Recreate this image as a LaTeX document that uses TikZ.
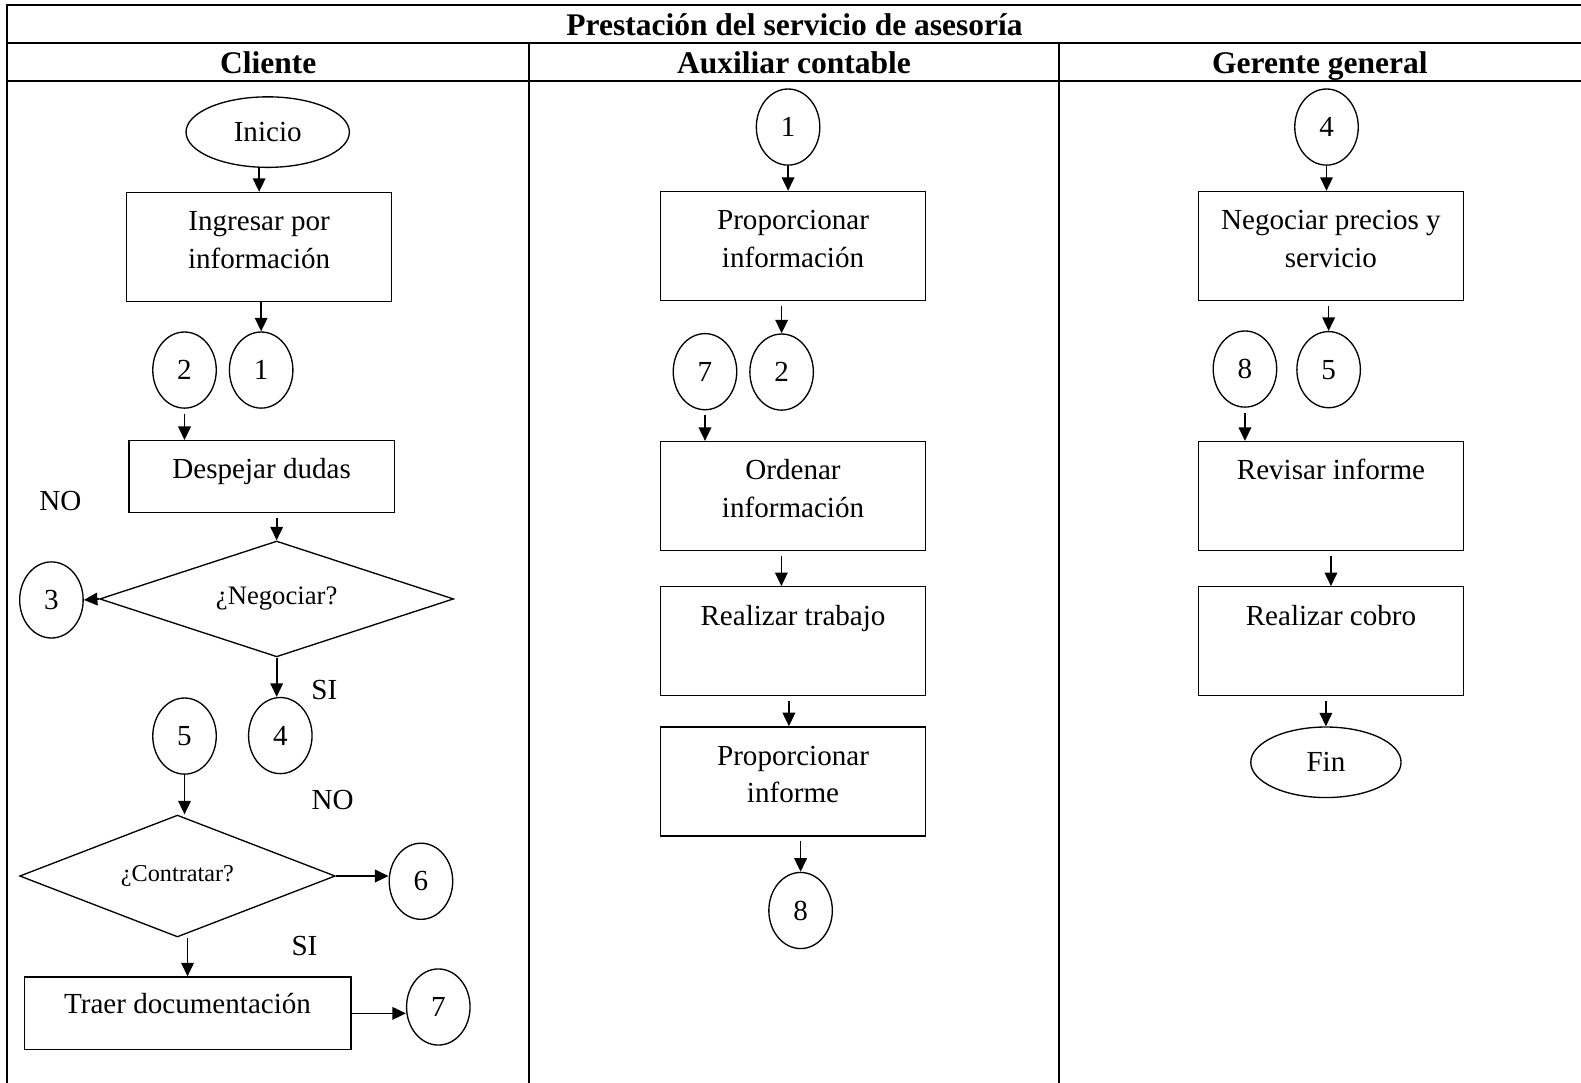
\documentclass[tikz,border=0pt]{standalone}
\usepackage{fontspec}
\setmainfont{Liberation Serif}
\usetikzlibrary{shapes.geometric,arrows.meta}
\tikzset{
processbox/.style={rectangle, draw=black, line width=0.55pt, inner xsep=2pt, inner ysep=0pt, minimum width=109.4pt, text width=104pt, align=flush center, text height=15.8pt, text depth=29.2pt},
connectorv1/.style={ellipse, draw=black, line width=0.55pt, inner sep=0pt, minimum width=26.2pt, minimum height=31.4pt},
terminalnode/.style={ellipse, draw=black, line width=0.55pt, inner sep=0pt, minimum width=67.4pt, minimum height=29.1pt},
decisionnode/.style={diamond, draw=black, line width=0.55pt, inner sep=0pt, aspect=3, minimum width=146pt, minimum height=47.8pt},
answertext/.style={inner sep=0pt},
headertext/.style={inner sep=0pt, text height=9pt, text depth=0pt, font=\fontsize{13}{15}\selectfont\bfseries},
arrowv1/.style={line width=0.7pt, -{Triangle[length=5.6pt,width=5.2pt]}},
tableline/.style={line width=0.85pt},
}

\begin{document}
\begin{tikzpicture}[x=0.416pt,y=-0.416pt,font=\fontsize{12}{15.4}\selectfont]
\useasboundingbox (0,0) rectangle (1568,1074);
\draw[tableline] (7,1074) -- (7,5) -- (1568,5);
\draw[tableline] (7,42.5) -- (1568,42.5);
\draw[tableline] (7,80.5) -- (1568,80.5);
\draw[tableline] (525,42.5) -- (525,1074);
\draw[tableline] (1050,42.5) -- (1050,1074);
\node[headertext] at (788,24) (title) {Prestación del servicio de asesoría};
\node[headertext] at (266,62) (hcliente) {Cliente};
\node[headertext] at (787.5,62) (hauxiliar) {Auxiliar contable};
\node[headertext] at (1309,62) (hgerente) {Gerente general};

\node[terminalnode] at (265.5,131) (inicio) {Inicio};
\node[processbox] at (257,245) (ingresar) {Ingresar por\\información};
\node[connectorv1] at (259,367) (c1) {1};
\node[connectorv1] at (183,367) (c2) {2};
\node[processbox, text depth=13.7pt] at (259.5,472.5) (despejar) {Despejar dudas};
\node[decisionnode, font=\fontsize{11}{13}\selectfont] at (274.4,594) (negociar) {¿Negociar?};
\node[connectorv1] at (51,595) (c3) {3};
\node[connectorv1] at (278,729.5) (c4) {4};
\node[connectorv1] at (183,730) (c5) {5};
\node[decisionnode, minimum width=130.2pt, minimum height=50.3pt, font=\fontsize{10}{12}\selectfont] at (176,868.8) (contratar) {¿Contratar?};
\node[connectorv1] at (417.5,874) (c6) {6};
\node[processbox, minimum width=134.8pt, text width=130pt, text height=15pt, text depth=15pt] at (186,1005) (traer) {Traer documentación};
\node[connectorv1] at (434.7,998.7) (c7) {7};
\node[answertext] at (60,497) (no1) {NO};
\node[answertext] at (321.6,684.3) (si1) {SI};
\node[answertext] at (330,793.4) (no2) {NO};
\node[answertext] at (302,938.6) (si2) {SI};
\draw[arrowv1] (ingresar.north |- inicio.south) -- (ingresar.north);
\draw[arrowv1] (c1.north |- ingresar.south) -- (c1.north);
\draw[arrowv1, shorten <=2pt] (c2.south) -- (c2.south |- despejar.north);
\draw[arrowv1, shorten <=2pt] (despejar.south -| negociar.north) -- (negociar.north);
\draw[arrowv1] (negociar.west) -- (c3.east);
\draw[arrowv1] (negociar.south) -- (negociar.south |- c4.north);
\draw[arrowv1] (c5.south) -- (c5.south |- contratar.north);
\draw[arrowv1] (contratar.east) -- (contratar.east -| c6.west);
\draw[arrowv1] (traer.north |- contratar.south) -- (traer.north);
\draw[arrowv1] (traer.east) -- (traer.east -| c7.west);

\node[connectorv1] at (781.6,126) (a1) {1};
\node[processbox] at (786.5,244) (prop1) {Proporcionar\\información};
\node[connectorv1] at (775.2,369) (a2) {2};
\node[connectorv1] at (699.2,368.6) (a7) {7};
\node[processbox] at (786.5,492) (ordenar) {Ordenar\\información};
\node[processbox] at (786.5,636) (trabajo) {Realizar trabajo};
\node[processbox] at (786.5,775) (prop2) {Proporcionar\\informe};
\node[connectorv1] at (794,903) (a8) {8};
\draw[arrowv1] (a1.south) -- (a1.south |- prop1.north);
\draw[arrowv1, shorten <=2pt] (a2.north |- prop1.south) -- (a2.north);
\draw[arrowv1, shorten <=2pt] (a7.south) -- (a7.south |- ordenar.north);
\draw[arrowv1, shorten <=2pt] ([xshift=-4.8pt]ordenar.south) -- ([xshift=-4.8pt]trabajo.north);
\draw[arrowv1, shorten <=2pt] ([xshift=-1.7pt]trabajo.south) -- ([xshift=-1.7pt]prop2.north);
\draw[arrowv1, shorten <=2pt] (a8.north |- prop2.south) -- (a8.north);

\node[connectorv1] at (1315.6,126) (g4) {4};
\node[processbox] at (1320,244) (negprecios) {Negociar precios y\\servicio};
\node[connectorv1] at (1317.7,366.6) (g5) {5};
\node[connectorv1] at (1234.7,366) (g8) {8};
\node[processbox] at (1320,492) (revisar) {Revisar informe};
\node[processbox] at (1320,636) (cobro) {Realizar cobro};
\node[terminalnode, minimum width=62pt] at (1315,756) (fin) {Fin};
\draw[arrowv1] (g4.south) -- (g4.south |- negprecios.north);
\draw[arrowv1, shorten <=2pt] (g5.north |- negprecios.south) -- (g5.north);
\draw[arrowv1, shorten <=2pt] (g8.south) -- (g8.south |- revisar.north);
\draw[arrowv1, shorten <=2pt] (revisar.south) -- (cobro.north);
\draw[arrowv1, shorten <=2pt] (fin.north |- cobro.south) -- (fin.north);
\end{tikzpicture}
\end{document}
